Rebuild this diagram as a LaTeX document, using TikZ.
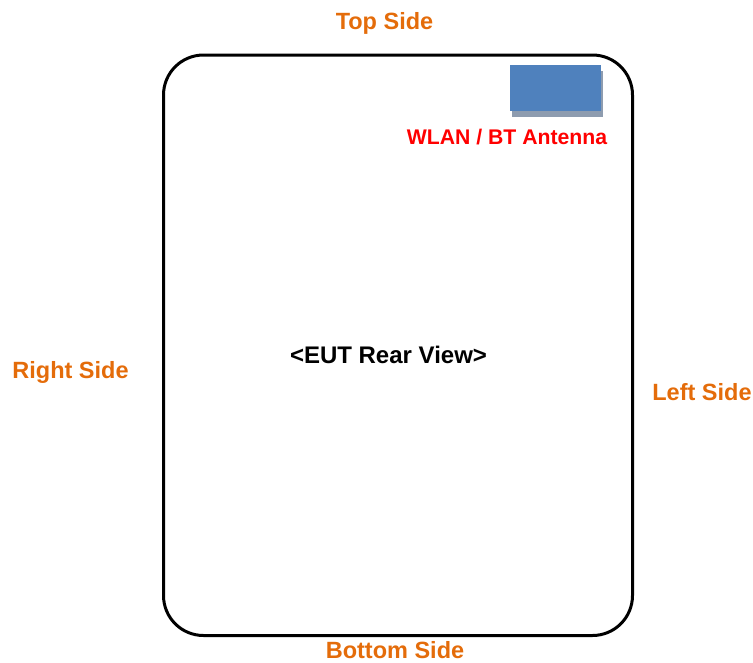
\documentclass[tikz,border=0pt]{standalone}
\usepackage{fontspec}
\setmainfont{Liberation Sans}
\usepackage{xcolor}
\definecolor{sideorange}{HTML}{E46C0A}
\definecolor{antblue}{HTML}{4F81BD}
\definecolor{antshadow}{HTML}{8E9CAF}
\begin{document}
\begin{tikzpicture}[
  x=1pt,y=-1pt,
  every node/.style={font=\bfseries\fontsize{23.5}{26}\selectfont,inner sep=0pt,anchor=base},
  side/.style={text=sideorange},
  housing/.style={line width=3pt,rounded corners=40pt},
  antenna/.style={fill=antblue,draw=none}
]
  \useasboundingbox (0,0) rectangle (753,662);

  % EUT housing (rear view)
  \draw[housing] (163.5,55) rectangle (632.5,635.5);

  % Antenna block with its shadow
  \fill[antshadow] (512,71) rectangle (603,117);
  \fill[antenna] (510,65) rectangle (601,111);
  \node[text=red,font=\bfseries\fontsize{21.2}{24}\selectfont] (ant_lbl) at (507,144) {WLAN / BT Antenna};

  % Centre label
  \node[font=\bfseries\fontsize{24}{26}\selectfont] (view_lbl) at (388.5,363) {<EUT Rear View>};

  % Side labels
  \node[side] (top_lbl)    at (384.5,29)  {Top Side};
  \node[side] (right_lbl)  at (70.5,378)  {Right Side};
  \node[side] (left_lbl)   at (702,400)   {Left Side};
  \node[side] (bottom_lbl) at (395,658.5) {Bottom Side};
\end{tikzpicture}
\end{document}
